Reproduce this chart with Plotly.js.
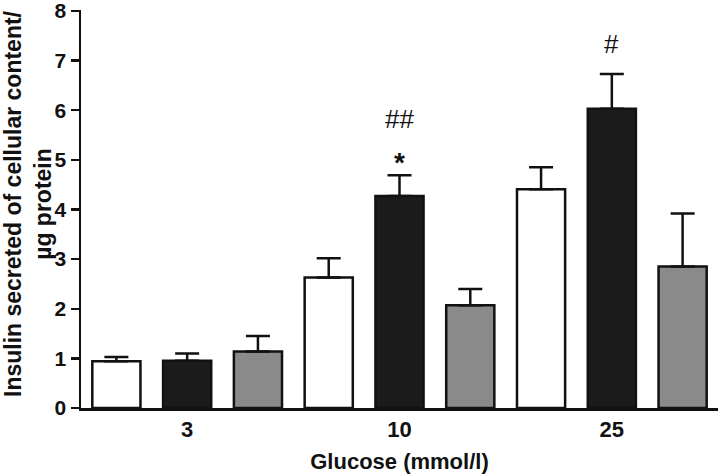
<!DOCTYPE html>
<html>
<head>
<meta charset="utf-8">
<script src="https://cdn.plot.ly/plotly-3.0.1.min.js"></script>
<style>html,body{margin:0;padding:0;background:#fff;}#chart{width:720px;height:476px;}</style>
</head>
<body>
<div id="chart"></div>
<script>
const categories = ["3", "10", "25"];
const whiteVals = [0.94, 2.63, 4.41];
const whiteErr = [0.09, 0.39, 0.44];
const blackVals = [0.95, 4.27, 6.03];
const blackErr = [0.15, 0.42, 0.70];
const grayVals = [1.14, 2.07, 2.85];
const grayErr = [0.31, 0.33, 1.07];
const yTicks = [0, 1, 2, 3, 4, 5, 6, 7, 8];
const markLabels = ["##", "*", "#"];
const markX = ["10", "10", "25"];
const markY = [5.82, 4.95, 7.33];
const yTitle = "Insulin secreted of cellular content/<br>µg protein";
const xTitle = "Glucose (mmol/l)";

const font = "Liberation Sans, Arial, Helvetica, sans-serif";
function series(vals, err, color) {
  return {
    type: "bar", x: categories, y: vals,
    marker: {color: color, line: {color: "#111", width: 2.5}},
    error_y: {type: "data", symmetric: false, array: err, arrayminus: err.map(() => 0),
              color: "#111", thickness: 2.5, width: 12},
    hoverinfo: "none", showlegend: false
  };
}
const data = [
  series(whiteVals, whiteErr, "#ffffff"),
  series(blackVals, blackErr, "#1b1b1b"),
  series(grayVals, grayErr, "#8a8a8a")
];
const annotations = markLabels.map((t, i) => ({
  x: categories.indexOf(markX[i]), y: markY[i], xref: "x", yref: "y", text: t, showarrow: false,
  font: t === "*" ? {family: font, size: 28, color: "#111", weight: "bold"} : {family: font, size: 26, color: "#111"}
}));
annotations.push({
  x: 0, y: 0.5, xref: "paper", yref: "paper", xanchor: "center", yanchor: "middle",
  xshift: -53, yshift: 5, textangle: -90, text: yTitle, showarrow: false,
  font: {family: font, size: 23, color: "#111", weight: "bold"}
});
const layout = {
  width: 720, height: 476,
  margin: {l: 81, r: 2, t: 10, b: 68},
  paper_bgcolor: "#fff", plot_bgcolor: "#fff",
  barmode: "group", bargap: 0, bargroupgap: 0.32,
  font: {family: font, color: "#111"},
  xaxis: {
    type: "category", range: [-0.5, 2.5], showline: true, linecolor: "#111", linewidth: 2.5,
    ticks: "",
    tickfont: {family: font, size: 22, weight: "bold"},
    title: {text: xTitle, font: {family: font, size: 22, weight: "bold"}, standoff: 13},
    showgrid: false, zeroline: false, fixedrange: true
  },
  yaxis: {
    range: [0, 8.02], tickmode: "array", tickvals: yTicks, ticktext: yTicks.map(String),
    ticklabeloverflow: "allow",
    showline: true, linecolor: "#111", linewidth: 2.5,
    ticks: "outside", ticklen: 8, tickwidth: 2.5, tickcolor: "#111",
    tickfont: {family: font, size: 21, weight: "bold"},
    showgrid: false, zeroline: false, fixedrange: true
  },
  annotations: annotations
};
Plotly.newPlot("chart", data, layout, {displayModeBar: false, staticPlot: true});
</script>
</body>
</html>
